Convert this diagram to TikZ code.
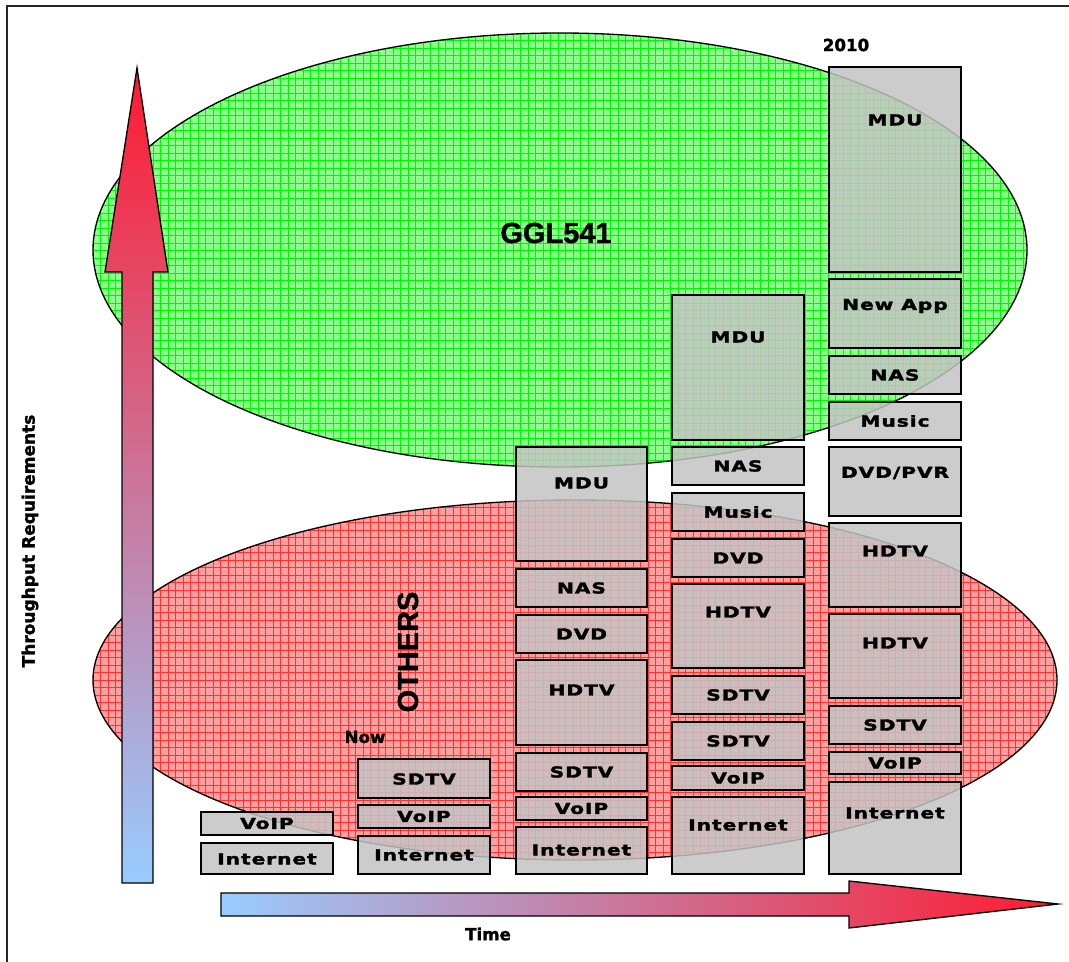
\documentclass[tikz,border=0pt]{standalone}
\usepackage{fontspec}
\usetikzlibrary{fit}
\setmainfont{Liberation Sans}
\newfontfamily\blk{DejaVu Sans}[FakeStretch=1.35, LetterSpace=6, FakeBold=2.2]
\newfontfamily\dv{DejaVu Sans}[FakeBold=1.6]
\newfontfamily\lib{Liberation Sans}[FakeBold=1.2]
\definecolor{gbg}{RGB}{140,255,140}
\definecolor{gln}{RGB}{0,245,0}
\definecolor{rbg}{RGB}{255,160,160}
\definecolor{rln}{RGB}{255,50,50}
\definecolor{arred}{RGB}{255,26,48}
\definecolor{arblue}{RGB}{153,204,255}
\definecolor{boxgray}{RGB}{196,196,196}
\begin{document}
\begin{tikzpicture}[x=0.75pt,y=-0.75pt,
  box/.style={draw=black, line width=1.6pt, fill=boxgray, fill opacity=0.85, inner sep=0pt},
  lbl/.style={font=\blk\bfseries\fontsize{11.25}{13}\selectfont, inner sep=0pt},
  small/.style={font=\dv\bfseries\fontsize{12.5}{14}\selectfont, inner sep=0pt},
  big/.style={font=\lib\bfseries\fontsize{21.75}{24}\selectfont, inner sep=0pt}]
\useasboundingbox (0,0) rectangle (1069,962);
\fill[white] (0,0) rectangle (1069,962);
\draw[line width=1.5pt, black!85] (7,6) rectangle (1100,1000);

% green ellipse
\begin{scope}
\clip (560,250) ellipse [x radius=467, y radius=217];
\fill[gbg] (90,30) rectangle (1030,470);
\foreach \x in {93,100.5,...,1030} \draw[gln, line width=0.7pt] (\x,30) -- (\x,470);
\foreach \y in {33,40.5,...,470} \draw[gln, line width=0.7pt] (90,\y) -- (1030,\y);
\end{scope}
\draw[line width=1pt] (560,250) ellipse [x radius=467, y radius=217];

% red ellipse
\begin{scope}
\clip (575,680) ellipse [x radius=482, y radius=180];
\fill[rbg] (90,495) rectangle (1060,865);
\foreach \x in {93,100.5,...,1060} \draw[rln, line width=0.7pt] (\x,495) -- (\x,865);
\foreach \y in {500,507.5,...,865} \draw[rln, line width=0.7pt] (90,\y) -- (1060,\y);
\end{scope}
\draw[line width=1pt] (575,680) ellipse [x radius=482, y radius=180];

% arrows
\shade[draw=black, line width=1pt, top color=arred, bottom color=arblue]
  (122,883) -- (122,272) -- (105,272) -- (137,68) -- (168,272) -- (153,272) -- (153,883) -- cycle;
\shade[draw=black, line width=1pt, left color=arblue, right color=arred]
  (221,893) -- (849,893) -- (849,881) -- (1058,904) -- (849,928) -- (849,916) -- (221,916) -- cycle;

% column 1
\node[box, fit={(201,812)(333,835)}] (c1voip) {};
\node[box, fit={(201,843)(333,874)}] (c1int) {};
\node[lbl] (t1voip) at (267,823.5) {VoIP};
\node[lbl] (t1int) at (267,859) {Internet};

% column 2
\node[box, fit={(358,759)(490,798)}] (c2sdtv) {};
\node[box, fit={(358,805)(490,828)}] (c2voip) {};
\node[box, fit={(358,836)(490,874)}] (c2int) {};
\node[lbl] (t2sdtv) at (424,779) {SDTV};
\node[lbl] (t2voip) at (424,816.5) {VoIP};
\node[lbl] (t2int) at (424,855) {Internet};

% column 3
\node[box, fit={(516,447)(647,561)}] (c3mdu) {};
\node[box, fit={(516,569)(647,607)}] (c3nas) {};
\node[box, fit={(516,615)(647,653)}] (c3dvd) {};
\node[box, fit={(516,660)(647,745)}] (c3hdtv) {};
\node[box, fit={(516,753)(647,791)}] (c3sdtv) {};
\node[box, fit={(516,797)(647,820)}] (c3voip) {};
\node[box, fit={(516,827)(647,874)}] (c3int) {};
\node[lbl] (t3mdu) at (581.5,483) {MDU};
\node[lbl] (t3nas) at (581.5,588) {NAS};
\node[lbl] (t3dvd) at (581.5,634) {DVD};
\node[lbl] (t3hdtv) at (581.5,690) {HDTV};
\node[lbl] (t3sdtv) at (581.5,772) {SDTV};
\node[lbl] (t3voip) at (581.5,808.5) {VoIP};
\node[lbl] (t3int) at (581.5,850) {Internet};

% column 4
\node[box, fit={(672,295)(804,440)}] (c4mdu) {};
\node[box, fit={(672,447)(804,485)}] (c4nas) {};
\node[box, fit={(672,493)(804,531)}] (c4music) {};
\node[box, fit={(672,539)(804,577)}] (c4dvd) {};
\node[box, fit={(672,584)(804,668)}] (c4hdtv) {};
\node[box, fit={(672,676)(804,714)}] (c4sdtva) {};
\node[box, fit={(672,722)(804,760)}] (c4sdtvb) {};
\node[box, fit={(672,766)(804,790)}] (c4voip) {};
\node[box, fit={(672,797)(804,874)}] (c4int) {};
\node[lbl] (t4mdu) at (738,337) {MDU};
\node[lbl] (t4nas) at (738,466) {NAS};
\node[lbl] (t4music) at (738,512) {Music};
\node[lbl] (t4dvd) at (738,558) {DVD};
\node[lbl] (t4hdtv) at (738,612) {HDTV};
\node[lbl] (t4sdtva) at (738,695) {SDTV};
\node[lbl] (t4sdtvb) at (738,741) {SDTV};
\node[lbl] (t4voip) at (738,778) {VoIP};
\node[lbl] (t4int) at (738,825) {Internet};

% column 5
\node[box, fit={(829,67)(961,272)}] (c5mdu) {};
\node[box, fit={(829,279)(961,348)}] (c5app) {};
\node[box, fit={(829,356)(961,394)}] (c5nas) {};
\node[box, fit={(829,402)(961,440)}] (c5music) {};
\node[box, fit={(829,447)(961,516)}] (c5dvd) {};
\node[box, fit={(829,523)(961,607)}] (c5hdtva) {};
\node[box, fit={(829,614)(961,698)}] (c5hdtvb) {};
\node[box, fit={(829,706)(961,744)}] (c5sdtv) {};
\node[box, fit={(829,752)(961,774)}] (c5voip) {};
\node[box, fit={(829,782)(961,874)}] (c5int) {};
\node[lbl] (t5mdu) at (895,120) {MDU};
\node[lbl] (t5app) at (895,306) {New App};
\node[lbl] (t5nas) at (895,375) {NAS};
\node[lbl] (t5music) at (895,421) {Music};
\node[lbl] (t5dvd) at (895,473) {DVD/PVR};
\node[lbl] (t5hdtva) at (895,551) {HDTV};
\node[lbl] (t5hdtvb) at (895,643) {HDTV};
\node[lbl] (t5sdtv) at (895,725) {SDTV};
\node[lbl] (t5voip) at (895,763) {VoIP};
\node[lbl] (t5int) at (895,813) {Internet};

% texts
\node[big] (ggl) at (556,233) {GGL541};
\node[big, rotate=90] (others) at (408,652) {OTHERS};
\node[small] (now) at (365,737) {Now};
\node[small] (y2010) at (846,45) {2010};
\node[small] (time) at (488,934) {Time};
\node[small, rotate=90, font=\dv\bfseries\fontsize{12.75}{14}\selectfont] (thr) at (30,541) {Throughput Requirements};
\end{tikzpicture}
\end{document}
